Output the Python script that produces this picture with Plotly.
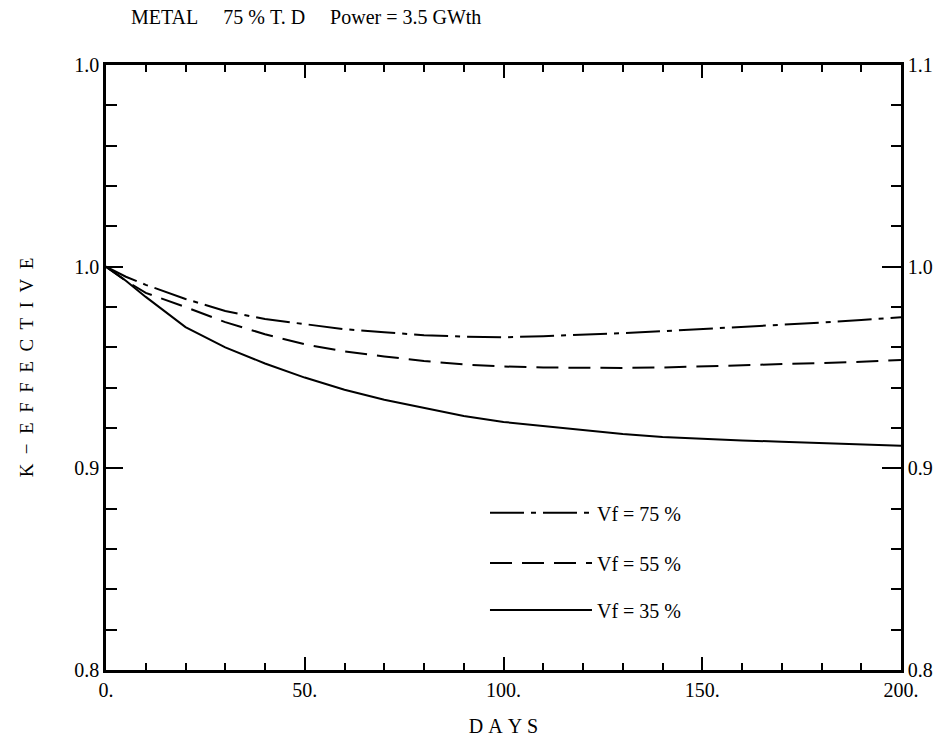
import plotly.graph_objects as go

days = [0, 5, 10, 20, 30, 40, 50, 60, 70, 80, 90, 100, 110, 120, 130, 140, 150, 160, 170, 180, 190, 200]
k_vf75 = [1.000, 0.995, 0.991, 0.984, 0.978, 0.974, 0.9715, 0.969, 0.9675, 0.966, 0.9653, 0.965,
          0.9655, 0.9662, 0.967, 0.968, 0.969, 0.9702, 0.9712, 0.9723, 0.9736, 0.9749]
k_vf55 = [1.000, 0.993, 0.987, 0.980, 0.9725, 0.9665, 0.9615, 0.958, 0.9555, 0.9532, 0.9515, 0.9505,
          0.950, 0.9498, 0.9498, 0.950, 0.9505, 0.9511, 0.9516, 0.9521, 0.9528, 0.9537]
k_vf35 = [1.000, 0.993, 0.985, 0.970, 0.960, 0.952, 0.945, 0.939, 0.934, 0.930, 0.926, 0.923,
          0.921, 0.919, 0.917, 0.9155, 0.9145, 0.9138, 0.9132, 0.9125, 0.9118, 0.9112]

series_names = ["Vf = 75 %", "Vf = 55 %", "Vf = 35 %"]
x_tickvals = [0, 50, 100, 150, 200]
x_ticktext = ["0.", "50.", "100.", "150.", "200."]
y_tickvals = [0.8, 0.9, 1.0, 1.1]
y_left_text = ["0.8", "0.9", "1.0", "1.0"]
y_right_text = ["0.8", "0.9", "1.0", "1.1"]

FONT = "Liberation Serif"
FS = 20
NB = "\u00a0"
fig = go.Figure()
fig.add_trace(go.Scatter(x=days, y=k_vf75, mode="lines", name=series_names[0], legend="legend",
                         line=dict(color="black", width=2, dash="34px,7px,5px,7px")))
fig.add_trace(go.Scatter(x=days, y=k_vf55, mode="lines", name=series_names[1], legend="legend2",
                         line=dict(color="black", width=2, dash="22px,10px")))
fig.add_trace(go.Scatter(x=days, y=k_vf35, mode="lines", name=series_names[2], legend="legend3",
                         line=dict(color="black", width=2)))
# invisible carrier so the right-hand axis is drawn
fig.add_trace(go.Scatter(x=days, y=k_vf35, mode="lines", yaxis="y2", showlegend=False, hoverinfo="skip",
                         opacity=0, line=dict(width=0)))

leg = dict(xanchor="left", yanchor="middle", bgcolor="rgba(0,0,0,0)", itemwidth=102,
           font=dict(family=FONT, size=FS, color="black"))
title_text = NB.join(["METAL", "", "", "", "", "75", "%", "T.", "D", "", "", "", "", "Power", "=", "3.5", "GWth"])
ytitle = (NB * 2).join(["K", "\u2212", "E", "F", "F", "E", "C", "T", "I", "V", "E"])
xtitle = NB.join(["D", "A", "Y", "S"])

fig.update_layout(
    width=952, height=753,
    margin=dict(l=106, r=51, t=65, b=83),
    paper_bgcolor="white", plot_bgcolor="white",
    showlegend=True,
    font=dict(family=FONT, size=FS, color="black"),
    title=dict(text=title_text,
               xref="container", yref="container", x=131/952, xanchor="left", y=1-17/753, yanchor="middle",
               font=dict(family=FONT, size=FS, color="black")),
    legend=dict(leg, x=0.4767, y=0.26),
    legend2=dict(leg, x=0.4767, y=0.177),
    legend3=dict(leg, x=0.4767, y=0.099),
    xaxis=dict(range=[0, 200], tickvals=x_tickvals, ticktext=x_ticktext, ticks="inside", ticklen=13,
               tickwidth=2, tickcolor="black", showline=True, linewidth=2.5, linecolor="black",
               mirror="ticks", showgrid=False, zeroline=False,
               tickfont=dict(family=FONT, size=FS),
               minor=dict(dtick=10, tick0=0, ticks="inside", ticklen=7, tickwidth=1.5, tickcolor="black"),
               title=dict(text=xtitle, font=dict(family=FONT, size=FS), standoff=20)),
    yaxis=dict(range=[0.8, 1.1], tickvals=y_tickvals, ticktext=y_left_text, ticks="inside", ticklen=17,
               tickwidth=2, tickcolor="black", showline=True, linewidth=2.5, linecolor="black",
               showgrid=False, zeroline=False, tickfont=dict(family=FONT, size=FS),
               minor=dict(dtick=0.02, tick0=0.8, ticks="inside", ticklen=11, tickwidth=1.5, tickcolor="black"),
               title=dict(text=ytitle, font=dict(family=FONT, size=FS - 1), standoff=36)),
    yaxis2=dict(range=[0.8, 1.1], overlaying="y", side="right", tickvals=y_tickvals, ticktext=y_right_text,
                ticks="inside", ticklen=19, tickwidth=2, tickcolor="black", showline=True, linewidth=2.5,
                linecolor="black", showgrid=False, zeroline=False, tickfont=dict(family=FONT, size=FS),
                minor=dict(dtick=0.02, tick0=0.8, ticks="inside", ticklen=10, tickwidth=1.5, tickcolor="black")),
)
fig.write_html("out.html")
